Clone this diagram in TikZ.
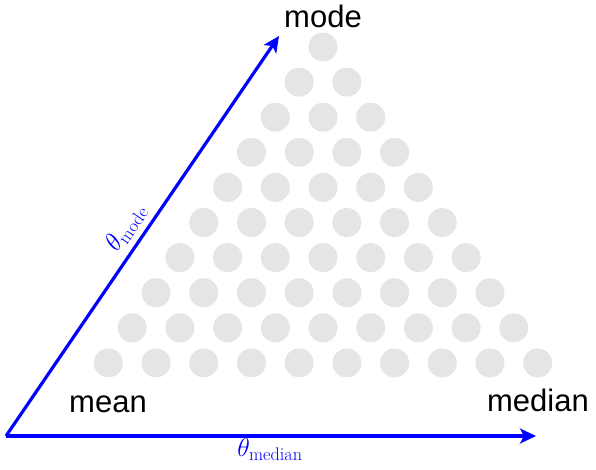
\RequirePackage{fix-cm}
\documentclass[tikz,border=0pt]{standalone}
\usepackage{fontspec}
\newfontfamily\labelfont{Liberation Sans}
\usetikzlibrary{arrows.meta}
\definecolor{dotgray}{RGB}{229,229,229}
\tikzset{
  dotstyle/.style={fill=dotgray, draw=none},
  axisline/.style={blue, line width=3.2pt, -{Stealth[length=16pt,width=15pt,inset=4pt]}},
  vlabel/.style={font=\labelfont\fontsize{31}{36}\selectfont, anchor=base, inner sep=0pt},
  tlabel/.style={text=blue, font=\fontsize{26}{30}\selectfont, inner sep=1pt}
}
\begin{document}
\begin{tikzpicture}[x=1pt,y=-1pt]
\useasboundingbox (0,0) rectangle (596,469);
\foreach \i in {0,...,9}{
  \foreach \j in {0,...,\i}{
    \fill[dotstyle] ({323+(\j-\i/2)*47.7},{47+\i*35.1}) circle (14.5);
  }
}
\coordinate (O) at (6,436);
\coordinate (M) at (279,36);
\coordinate (D) at (536,436);
\draw[axisline] (O) -- (M) node[tlabel, pos=0.495, sloped, above, inner sep=6pt] (tmode) {$\theta_{\mathrm{mode}}$};
\draw[axisline] (O) -- (D) node[tlabel, pos=0.498, below] (tmed) {$\theta_{\mathrm{median}}$};
\node[vlabel] (mode) at (323,27) {mode};
\node[vlabel] (mean) at (108,412) {mean};
\node[vlabel] (median) at (538,411) {median};
\end{tikzpicture}
\end{document}
